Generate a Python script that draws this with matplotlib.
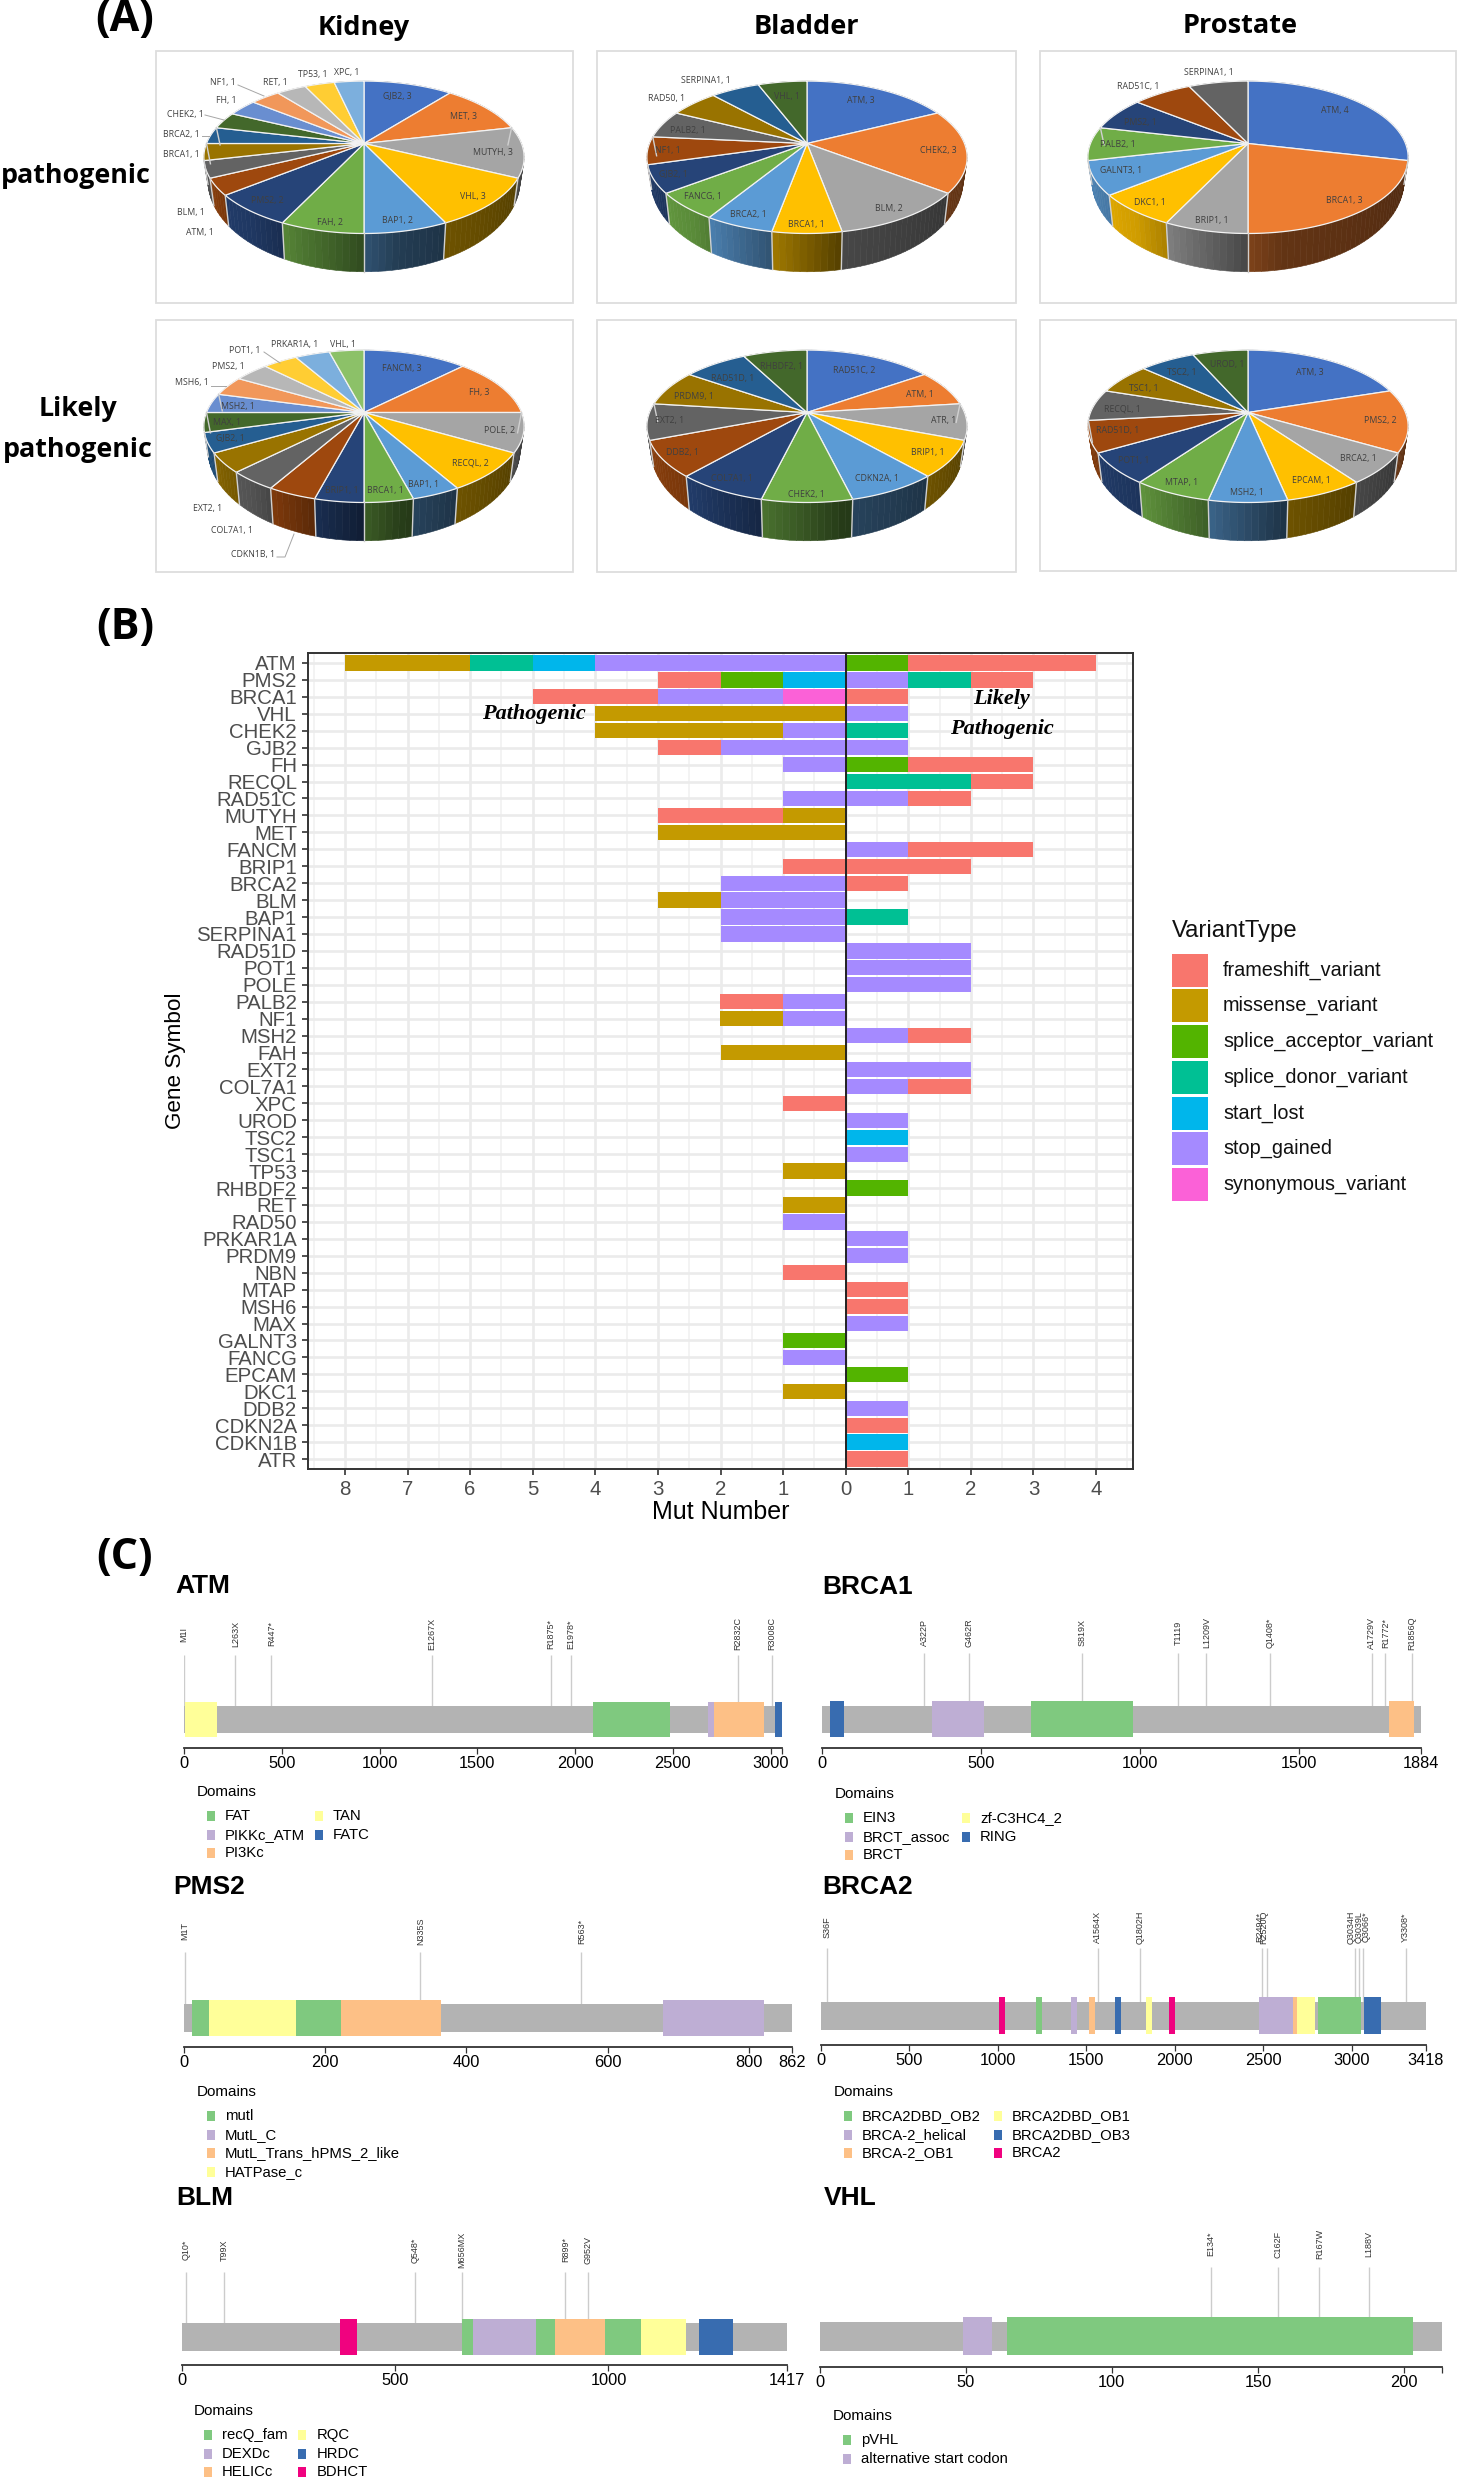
import numpy as np
import matplotlib
matplotlib.use("Agg")
import matplotlib.pyplot as plt
from matplotlib.colors import to_rgb
from matplotlib.patches import Rectangle

plt.rcParams["font.family"] = ["Liberation Sans", "DejaVu Sans"]

W, H = 1458, 2480

# ---------- panel A data ----------
office_colors = ["#4472C4", "#ED7D31", "#A5A5A5", "#FFC000", "#5B9BD5", "#70AD47",
                 "#264478", "#9E480E", "#636363", "#997300", "#255E91", "#43682B",
                 "#698ED0", "#F1975A", "#B7B7B7", "#FFCD33", "#7CAFDD", "#8CC168"]

kidney_path_genes = ["GJB2", "MET", "MUTYH", "VHL", "BAP1", "FAH", "PMS2", "ATM", "BLM", "BRCA1",
                     "BRCA2", "CHEK2", "FH", "NF1", "RET", "TP53", "XPC"]
kidney_path_counts = [3, 3, 3, 3, 2, 2, 2, 1, 1, 1, 1, 1, 1, 1, 1, 1, 1]
kidney_likely_genes = ["FANCM", "FH", "POLE", "RECQL", "BAP1", "BRCA1", "BRIP1", "CDKN1B", "COL7A1",
                       "EXT2", "GJB2", "MAX", "MSH2", "MSH6", "PMS2", "POT1", "PRKAR1A", "VHL"]
kidney_likely_counts = [3, 3, 2, 2, 1, 1, 1, 1, 1, 1, 1, 1, 1, 1, 1, 1, 1, 1]
bladder_path_genes = ["ATM", "CHEK2", "BLM", "BRCA1", "BRCA2", "FANCG", "GJB2", "NF1", "PALB2",
                      "RAD50", "SERPINA1", "VHL"]
bladder_path_counts = [3, 3, 2, 1, 1, 1, 1, 1, 1, 1, 1, 1]
bladder_likely_genes = ["RAD51C", "ATM", "ATR", "BRIP1", "CDKN2A", "CHEK2", "COL7A1", "DDB2", "EXT2",
                        "PRDM9", "RAD51D", "RHBDF2"]
bladder_likely_counts = [2, 1, 1, 1, 1, 1, 1, 1, 1, 1, 1, 1]
prostate_path_genes = ["ATM", "BRCA1", "BRIP1", "DKC1", "GALNT3", "PALB2", "PMS2", "RAD51C", "SERPINA1"]
prostate_path_counts = [4, 3, 1, 1, 1, 1, 1, 1, 1]
prostate_likely_genes = ["ATM", "PMS2", "BRCA2", "EPCAM", "MSH2", "MTAP", "POT1", "RAD51D", "RECQL",
                         "TSC1", "TSC2", "UROD"]
prostate_likely_counts = [3, 2, 1, 1, 1, 1, 1, 1, 1, 1, 1, 1]

# label centres in reference pixels
kidney_path_pos = [(397, 96), (464, 117), (493, 152), (473, 196), (398, 221), (330, 222), (267, 201),
                   (200, 232), (191, 213), (181, 155), (181, 134), (185, 115), (226, 101), (223, 82),
                   (275, 82), (313, 75), (347, 73)]
kidney_likely_pos = [(402, 368), (479, 393), (500, 430), (470, 463), (424, 484), (385, 491), (342, 491),
                     (253, 555), (232, 530), (208, 509), (230, 439), (227, 422), (238, 407), (192, 383),
                     (228, 367), (245, 351), (295, 345), (343, 344)]
bladder_path_pos = [(861, 101), (938, 150), (889, 209), (806, 224), (748, 215), (703, 197), (673, 175),
                    (668, 150), (688, 130), (667, 99), (706, 81), (787, 96)]
bladder_likely_pos = [(854, 370), (920, 395), (944, 421), (928, 453), (877, 479), (806, 494), (732, 479),
                      (682, 453), (670, 421), (694, 396), (733, 378), (782, 366)]
prostate_path_pos = [(1335, 111), (1344, 201), (1212, 221), (1150, 202), (1121, 171), (1118, 144),
                     (1140, 122), (1138, 86), (1209, 73)]
prostate_likely_pos = [(1310, 372), (1380, 421), (1358, 459), (1311, 481), (1247, 493), (1182, 483),
                       (1134, 460), (1118, 431), (1122, 409), (1144, 388), (1182, 373), (1227, 365)]

# ---------- panel B data ----------
variant_types = ["frameshift_variant", "missense_variant", "splice_acceptor_variant", "splice_donor_variant",
                 "start_lost", "stop_gained", "synonymous_variant"]
variant_colors = ["#F8766D", "#C49A00", "#53B400", "#00C094", "#00B6EB", "#A58AFF", "#FB61D7"]
fs, ms, sa, sd, sl, sg, sy = variant_types

gene_symbols = ["ATM", "PMS2", "BRCA1", "VHL", "CHEK2", "GJB2", "FH", "RECQL", "RAD51C", "MUTYH", "MET",
                "FANCM", "BRIP1", "BRCA2", "BLM", "BAP1", "SERPINA1", "RAD51D", "POT1", "POLE", "PALB2",
                "NF1", "MSH2", "FAH", "EXT2", "COL7A1", "XPC", "UROD", "TSC2", "TSC1", "TP53", "RHBDF2",
                "RET", "RAD50", "PRKAR1A", "PRDM9", "NBN", "MTAP", "MSH6", "MAX", "GALNT3", "FANCG",
                "EPCAM", "DKC1", "DDB2", "CDKN2A", "CDKN1B", "ATR"]

# stacks listed from zero outwards
pathogenic = {
    "ATM": [(sg, 4), (sl, 1), (sd, 1), (ms, 2)], "PMS2": [(sl, 1), (sa, 1), (fs, 1)],
    "BRCA1": [(sy, 1), (sg, 2), (fs, 2)], "VHL": [(ms, 4)], "CHEK2": [(sg, 1), (ms, 3)],
    "GJB2": [(sg, 2), (fs, 1)], "FH": [(sg, 1)], "RAD51C": [(sg, 1)], "MUTYH": [(ms, 1), (fs, 2)],
    "MET": [(ms, 3)], "BRIP1": [(fs, 1)], "BRCA2": [(sg, 2)], "BLM": [(sg, 2), (ms, 1)],
    "BAP1": [(sg, 2)], "SERPINA1": [(sg, 2)], "PALB2": [(sg, 1), (fs, 1)], "NF1": [(sg, 1), (ms, 1)],
    "FAH": [(ms, 2)], "XPC": [(fs, 1)], "TP53": [(ms, 1)], "RET": [(ms, 1)], "RAD50": [(sg, 1)],
    "NBN": [(fs, 1)], "GALNT3": [(sa, 1)], "FANCG": [(sg, 1)], "DKC1": [(ms, 1)],
}
likely_pathogenic = {
    "ATM": [(sa, 1), (fs, 3)], "PMS2": [(sg, 1), (sd, 1), (fs, 1)], "BRCA1": [(fs, 1)], "VHL": [(sg, 1)],
    "CHEK2": [(sd, 1)], "GJB2": [(sg, 1)], "FH": [(sa, 1), (fs, 2)], "RECQL": [(sd, 2), (fs, 1)],
    "RAD51C": [(sg, 1), (fs, 1)], "FANCM": [(sg, 1), (fs, 2)], "BRIP1": [(fs, 2)], "BRCA2": [(fs, 1)],
    "BAP1": [(sd, 1)], "RAD51D": [(sg, 2)], "POT1": [(sg, 2)], "POLE": [(sg, 2)], "MSH2": [(sg, 1), (fs, 1)],
    "EXT2": [(sg, 2)], "COL7A1": [(sg, 1), (fs, 1)], "UROD": [(sg, 1)], "TSC2": [(sl, 1)], "TSC1": [(sg, 1)],
    "RHBDF2": [(sa, 1)], "PRKAR1A": [(sg, 1)], "PRDM9": [(sg, 1)], "MTAP": [(fs, 1)], "MSH6": [(fs, 1)],
    "MAX": [(sg, 1)], "EPCAM": [(sa, 1)], "DDB2": [(sg, 1)], "CDKN2A": [(fs, 1)], "CDKN1B": [(sl, 1)],
    "ATR": [(fs, 1)],
}
mut_ticks = [-8, -7, -6, -5, -4, -3, -2, -1, 0, 1, 2, 3, 4]

# ---------- panel C data ----------
accent = ["#7FC97F", "#BEAED4", "#FDC086", "#FFFF99", "#386CB0", "#F0027F"]

atm_domains = ["FAT", "PIKKc_ATM", "PI3Kc", "TAN", "FATC"]
atm_spans = [(0, 2093, 2487), (1, 2681, 2712), (2, 2712, 2965), (3, 5, 168), (4, 3022, 3056)]
atm_muts = ["M1I", "L263X", "R447*", "E1267X", "R1875*", "E1978*", "R2832C", "R3008C"]
atm_mut_pos = [1, 263, 447, 1267, 1875, 1978, 2832, 3008]

brca1_domains = ["EIN3", "BRCT_assoc", "BRCT", "zf-C3HC4_2", "RING"]
brca1_spans = [(0, 656, 977), (1, 346, 509), (2, 1783, 1862), (3, 24, 64), (4, 24, 68)]
brca1_muts = ["A322P", "G462R", "S819X", "T1119", "L1209V", "Q1408*", "A1729V", "R1772*", "R1856Q"]
brca1_mut_pos = [322, 462, 819, 1119, 1209, 1408, 1729, 1772, 1856]

pms2_domains = ["mutl", "MutL_C", "MutL_Trans_hPMS_2_like", "HATPase_c"]
pms2_spans = [(0, 12, 36), (0, 158, 222), (1, 678, 822), (2, 222, 364), (3, 36, 158)]
pms2_muts = ["M1T", "N335S", "R563*"]
pms2_mut_pos = [1, 335, 563]

brca2_domains = ["BRCA2DBD_OB2", "BRCA-2_helical", "BRCA-2_OB1", "BRCA2DBD_OB1", "BRCA2DBD_OB3", "BRCA2"]
brca2_spans = [(5, 1004, 1038), (0, 1214, 1249), (1, 1415, 1450), (2, 1513, 1552), (4, 1665, 1694),
               (3, 1836, 1870), (5, 1969, 2003), (1, 2478, 2667), (2, 2667, 2690), (3, 2690, 2793),
               (0, 2811, 3053), (4, 3072, 3167)]
brca2_muts = ["S36F", "A1564X", "Q1802H", "R2494*", "R2520Q", "Q3034H", "Q3039L", "Q3066*", "Y3308*"]
brca2_mut_pos = [36, 1564, 1802, 2491, 2521, 3022, 3042, 3064, 3305]
brca2_label_shift = [0, 0, 0, -10, -20, -25, 0, 20, 0]

blm_domains = ["recQ_fam", "DEXDc", "HELICc", "RQC", "HRDC", "BDHCT"]
blm_spans = [(5, 371, 411), (0, 657, 683), (1, 683, 831), (0, 831, 874), (2, 874, 991), (0, 991, 1076),
             (3, 1076, 1182), (4, 1212, 1291)]
blm_muts = ["Q10*", "T99X", "Q548*", "M656MX", "R899*", "G952V"]
blm_mut_pos = [10, 99, 548, 656, 899, 952]

vhl_domains = ["pVHL", "alternative start codon"]
vhl_spans = [(1, 49, 59), (0, 64, 203)]
vhl_muts = ["E134*", "C162F", "R167W", "L188V"]
vhl_mut_pos = [134, 157, 171, 188]

fig = plt.figure(figsize=(W / 100, H / 100), dpi=100)
page = fig.add_axes([0, 0, 1, 1])
page.set_xlim(0, W)
page.set_ylim(H, 0)
page.axis("off")


def put(x, y, s, size, **kw):
    kw.setdefault("ha", "center")
    kw.setdefault("va", "center")
    page.text(x, y, s, fontsize=size, **kw)


# ---------- panel A ----------
TILT, PIE_A, PIE_B = 0.181, 73.7, 157.5


def top_rim(t, cx, cy):
    den = 1 + TILT * np.cos(t)
    return cx + PIE_B * np.sin(t) / den, cy - PIE_A * np.cos(t) / den


def low_rim(t, cx, cy):
    x, y = top_rim(t, cx, cy)
    return cx + (x - cx) * 0.975, cy + (y - cy) * 1.2 + 20.3


def pie3d(cx, cy, box, counts, genes, label_pos):
    page.add_patch(Rectangle((box[0], box[1]), box[2] - box[0], box[3] - box[1], fc="white",
                             ec="#DDDDDD", lw=1.3))
    edges = np.cumsum([0] + list(counts)) / sum(counts) * 2 * np.pi
    sides = []
    for i in range(len(counts)):
        n = max(2, int((edges[i + 1] - edges[i]) / np.radians(2)))
        ts = np.linspace(edges[i], edges[i + 1], n + 1)
        for j in range(n):
            sides.append((np.cos((ts[j] + ts[j + 1]) / 2), ts[j], ts[j + 1], i, (j + 0.5) / n))
    # back to front so the near rim covers the far one
    for _, t0, t1, i, frac in sorted(sides, key=lambda r: -r[0]):
        x0, y0 = top_rim(t0, cx, cy)
        x1, y1 = top_rim(t1, cx, cy)
        x2, y2 = low_rim(t1, cx, cy)
        x3, y3 = low_rim(t0, cx, cy)
        # light falls from the left, each slice also has its own small gradient
        light = np.clip(0.48 - 0.55 * np.sin((t0 + t1) / 2), 0.38, 0.82) + 0.1 * (frac - 0.5)
        col = np.array(to_rgb(office_colors[i])) * light
        page.fill([x0, x1, x2, x3], [y0, y1, y2, y3], color=col, lw=0.4)
    for t in edges[:-1]:
        if np.cos(t) < 0.3:
            x0, y0 = top_rim(t, cx, cy)
            x1, y1 = low_rim(t, cx, cy)
            page.plot([x0, x1], [y0, y1], color="#D0D0D0", lw=1)
    for i in range(len(counts)):
        ts = np.linspace(edges[i], edges[i + 1], 80)
        xs, ys = top_rim(ts, cx, cy)
        page.fill(np.r_[cx, xs], np.r_[cy, ys], fc=office_colors[i], ec="#F2F2F2", lw=0.9)
    for gene, count, (x, y) in zip(genes, counts, label_pos):
        put(x, y, f"{gene}, {count}", 6.3, color="#404040", family="Open Sans")


pie3d(364, 143.5, (156, 51, 573, 303), kidney_path_counts, kidney_path_genes, kidney_path_pos)
pie3d(364, 412.5, (156, 320, 573, 572), kidney_likely_counts, kidney_likely_genes, kidney_likely_pos)
pie3d(807, 143.5, (597, 51, 1016, 303), bladder_path_counts, bladder_path_genes, bladder_path_pos)
pie3d(807, 412.5, (597, 320, 1016, 572), bladder_likely_counts, bladder_likely_genes, bladder_likely_pos)
pie3d(1248, 143.5, (1040, 51, 1456, 303), prostate_path_counts, prostate_path_genes, prostate_path_pos)
pie3d(1248, 412.5, (1040, 320, 1456, 571), prostate_likely_counts, prostate_likely_genes, prostate_likely_pos)

leaders = [[(238, 85), (264, 96)], [(205, 115), (224, 120)], [(202, 136), (209, 136)],
           [(264, 352), (280, 363)], [(211, 386), (226, 386)],
           [(277, 557), (285, 557), (294, 534)]]
for pts in leaders:
    page.plot(*zip(*pts), color="#A6A6A6", lw=0.7)

head = dict(family="Open Sans", weight="bold", color="black")
put(125, 19, "(A)", 31, **head)
put(125, 627, "(B)", 31, **head)
put(125, 1557, "(C)", 31, **head)
put(364, 28, "Kidney", 19.5, **head)
put(806, 27, "Bladder", 19.5, **head)
put(1240, 26, "Prostate", 19.5, **head)
put(76, 176, "pathogenic", 19.4, **head)
put(78, 409, "Likely", 19.4, **head)
put(78, 450, "pathogenic", 19.4, **head)

# ---------- panel B ----------
ax = fig.add_axes([308 / W, 1 - 1469 / H, (1133 - 308) / W, (1469 - 653) / H])
color_of = dict(zip(variant_types, variant_colors))
rows = np.arange(len(gene_symbols))
for row, gene in zip(rows, gene_symbols):
    for stacks, sign in ((pathogenic, -1), (likely_pathogenic, 1)):
        left = 0
        for vtype, n in stacks.get(gene, []):
            ax.barh(row, sign * n, left=left, height=0.9, color=color_of[vtype], zorder=3)
            left += sign * n
ax.axvline(0, color="#222222", lw=1.4, zorder=4)
ax.set_xlim(-8.59, 4.59)
ax.set_ylim(len(gene_symbols) - 0.41, -0.59)
ax.set_yticks(rows, gene_symbols)
ax.set_xticks(mut_ticks, [str(abs(v)) for v in mut_ticks])
ax.set_xticks(np.arange(-8.5, 4.6, 1), minor=True)
ax.grid(True, which="major", color="#EBEBEB", lw=1.9, zorder=0)
ax.grid(True, which="minor", axis="x", color="#F0F0F0", lw=1.1, zorder=0)
ax.set_axisbelow(True)
ax.tick_params(axis="both", which="major", labelsize=14.7, labelcolor="#4D4D4D", color="#333333",
               width=1.2, length=4, pad=4)
ax.tick_params(axis="both", which="minor", length=0)
for spine in ax.spines.values():
    spine.set_color("#333333")
    spine.set_linewidth(1.4)

put(721, 1512, "Mut Number", 18)
put(176, 1061, "Gene Symbol", 16.2, rotation=90)
ital = dict(family="Liberation Serif", weight="bold", style="italic", zorder=10)
ax_note = fig.add_axes([0, 0, 1, 1])
ax_note.set_xlim(0, W)
ax_note.set_ylim(H, 0)
ax_note.axis("off")
ax_note.text(534, 714, "Pathogenic", fontsize=16, ha="center", va="center", **ital)
ax_note.text(1002, 699, "Likely", fontsize=16, ha="center", va="center", **ital)
ax_note.text(1002, 729, "Pathogenic", fontsize=16, ha="center", va="center", **ital)

put(1172, 931, "VariantType", 17.2, ha="left", color="#111111")
for k, (vtype, col) in enumerate(zip(variant_types, variant_colors)):
    yc = 970 + k * 35.75
    page.add_patch(Rectangle((1172.5, yc - 16.5), 36, 33, fc=col, ec="none"))
    put(1223, yc, vtype, 14.3, ha="left", color="#111111")


# ---------- panel C ----------
def protein(name, length, ticks, tick_labels, spans, muts, mut_pos, domains, x0, x1, title_xy, label_y,
            stem_top, bar, dom, axis_y, legend_xy, col2_x, per_col, label_shift=None):
    ax = fig.add_axes([x0 / W, 1 - axis_y / H, (x1 - x0) / W, (axis_y - label_y + 30) / H])
    ax.patch.set_alpha(0)
    ax.set_xlim(0, length)
    ax.set_ylim(axis_y, label_y - 30)
    bar_mid, dom_mid = sum(bar) / 2, sum(dom) / 2
    shift = label_shift or [0] * len(muts)
    ax.vlines(mut_pos, stem_top, bar[0], color="#CCCCCC", lw=1, zorder=1)
    for m, p, d in zip(muts, mut_pos, shift):
        ax.text(p + d, label_y, m, rotation=90, fontsize=6.5, color="#333333", ha="center", va="center")
    ax.barh(bar_mid, length, height=bar[1] - bar[0], color="#B3B3B3", zorder=2)
    for idx, a, b in spans:
        ax.barh(dom_mid, b - a, left=a, height=dom[1] - dom[0], color=accent[idx], zorder=3)
    for side in ("top", "left", "right"):
        ax.spines[side].set_visible(False)
    ax.spines["bottom"].set_color("#333333")
    ax.spines["bottom"].set_linewidth(1.3)
    ax.set_yticks([])
    ax.set_xticks(ticks, tick_labels)
    ax.tick_params(axis="x", labelsize=11.8, length=4, width=0.9, color="#333333", pad=2)
    put(title_xy[0], title_xy[1], name, 19, weight="bold", ha="left")
    lx, ly = legend_xy
    put(lx, ly, "Domains", 11, ha="left")
    for k, dname in enumerate(domains):
        col_x = lx + 14 if k < per_col else col2_x
        yc = ly + 24 + (k % per_col) * 18.7
        page.add_patch(Rectangle((col_x - 4, yc - 5), 8, 10, fc=accent[k], ec="none"))
        put(col_x + 14, yc, dname, 10.7, ha="left")


protein("ATM", 3056, [0, 500, 1000, 1500, 2000, 2500, 3000, 3056], ["0", "500", "1000", "1500", "2000", "2500", "3000", ""],
        atm_spans, atm_muts, atm_mut_pos, atm_domains, 184, 781.5, (175, 1586), 1634, 1655,
        (1706, 1733), (1702, 1737), 1748, (197, 1792), 319, 3)
protein("BRCA1", 1884, [0, 500, 1000, 1500, 1884], ["0", "500", "1000", "1500", "1884"],
        brca1_spans, brca1_muts, brca1_mut_pos, brca1_domains, 822, 1421, (822, 1587), 1633, 1653,
        (1706, 1733), (1701, 1737), 1748, (835, 1794), 966, 3)
protein("PMS2", 862, [0, 200, 400, 600, 800, 862], ["0", "200", "400", "600", "800", "862"],
        pms2_spans, pms2_muts, pms2_mut_pos, pms2_domains, 184, 792.5, (173, 1887), 1931, 1952,
        (2004, 2032), (2000, 2036), 2047, (197, 2092), 400, 4)
protein("BRCA2", 3418, [0, 500, 1000, 1500, 2000, 2500, 3000, 3418], ["0", "500", "1000", "1500", "2000", "2500", "3000", "3418"],
        brca2_spans, brca2_muts, brca2_mut_pos, brca2_domains, 821, 1425.5, (822, 1887), 1927, 1948,
        (2002, 2030), (1997, 2034), 2045, (834, 2092), 998, 3, brca2_label_shift)
protein("BLM", 1417, [0, 500, 1000, 1417], ["0", "500", "1000", "1417"],
        blm_spans, blm_muts, blm_mut_pos, blm_domains, 181.5, 786.5, (176, 2198), 2250, 2272,
        (2323, 2351), (2319, 2355), 2365, (194, 2411), 302.5, 3)
protein("VHL", 213, [0, 50, 100, 150, 200, 213], ["0", "50", "100", "150", "200", ""],
        vhl_spans, vhl_muts, vhl_mut_pos, vhl_domains, 819.5, 1442, (824, 2198), 2244, 2267,
        (2322, 2351), (2317, 2355), 2367, (833, 2416), 1100, 2)

fig.savefig("out.png", dpi=100)
